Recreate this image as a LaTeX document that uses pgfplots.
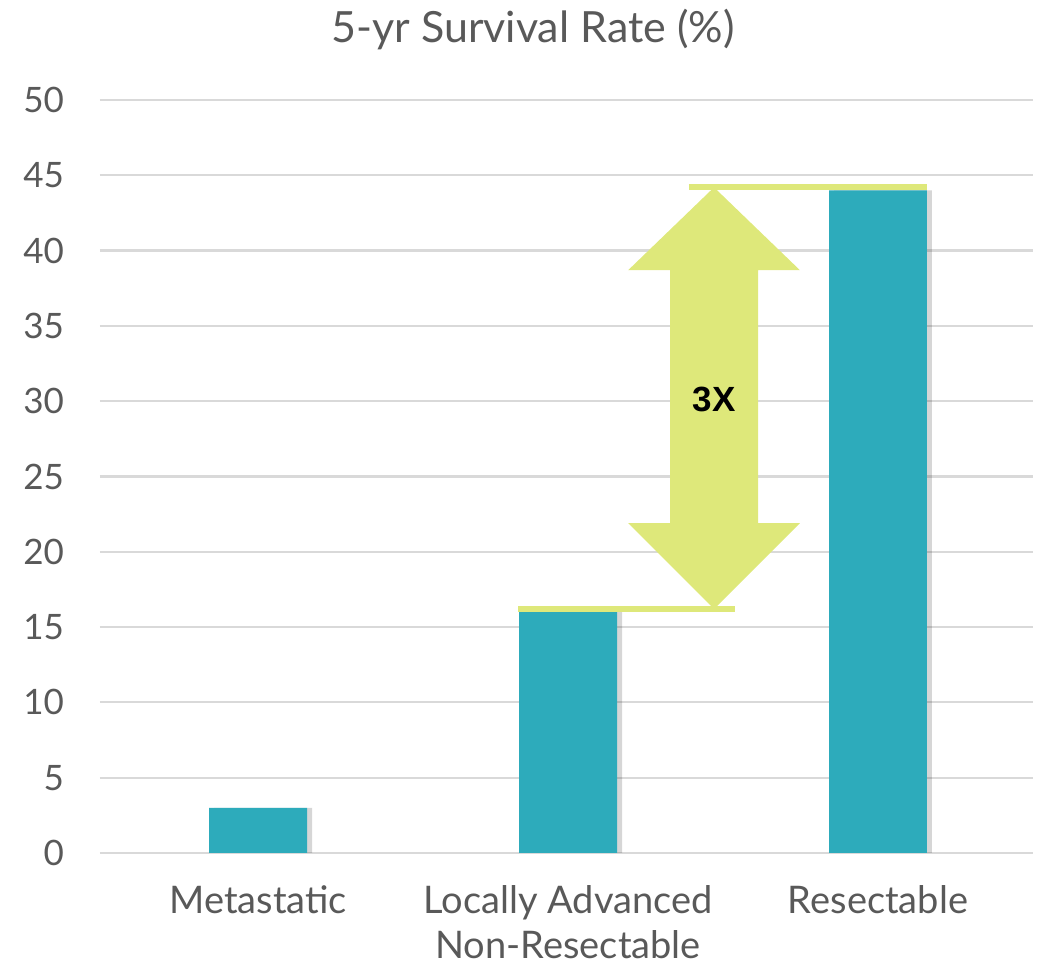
\documentclass[border=0pt]{standalone}
\usepackage{fontspec}
\setmainfont{Lato}
\newfontfamily\arialfont{Liberation Sans}
\usepackage{pgfplots}
\pgfplotsset{compat=1.18}
\definecolor{teal1}{HTML}{2DABBB}
\definecolor{lime1}{HTML}{DEE87A}
\definecolor{grid1}{HTML}{D9D9D9}
\definecolor{txt1}{HTML}{595959}
\begin{document}
\begin{tikzpicture}
\begin{axis}[
  scale only axis,
  width=466.5pt, height=376.5pt,
  xmin=-0.51, xmax=2.5,
  ymin=0, ymax=50,
  ytick={0,5,...,50},
  xtick={0,1,2},
  xticklabels={Metastatic,{Locally Advanced\\Non-Resectable},Resectable},
  axis line style={draw=none},
  major tick length=0pt,
  ymajorgrids,
  grid style={grid1, line width=1.1pt},
  /pgf/number format/assume math mode=true,
  yticklabel style={font=\fontsize{17.5}{20}\selectfont, text=txt1, anchor=east, xshift=-14.5pt},
  xticklabel style={font=\fontsize{19}{22.5}\selectfont, text=txt1, align=center, anchor=north, yshift=-15pt, inner sep=1pt},
  title={5-yr Survival Rate (\%)},
  title style={font=\fontsize{21.5}{24}\selectfont, text=txt1, at={(0.464,1)}, anchor=base, yshift=22.5pt},
  clip=false,
]
% shadow
\addplot[ybar, bar width=0.316, bar shift=2.5pt, fill=black, fill opacity=0.16, draw=none]
  coordinates {(0,3) (1,16) (2,44)};
% bars
\addplot[ybar, bar width=0.316, bar shift=0pt, fill=teal1, draw=none]
  coordinates {(0,3) (1,16) (2,44)};
% guide lines
\addplot[lime1, line width=3pt] coordinates {(1.39,44.2) (2.158,44.2)};
\addplot[lime1, line width=3pt] coordinates {(0.839,16.2) (1.539,16.2)};
% double arrow
\addplot[fill=lime1, draw=none] coordinates {
  (1.471,44.2) (1.748,38.7) (1.613,38.7) (1.613,21.9) (1.748,21.9)
  (1.471,16.2) (1.194,21.9) (1.329,21.9) (1.329,38.7) (1.194,38.7)} -- cycle;
\node at (axis cs:1.471,30.1) {\arialfont\bfseries\fontsize{17.5}{20}\selectfont 3X};
\end{axis}
\pgfresetboundingbox
\path[use as bounding box] ([xshift=-50pt,yshift=-60pt]current axis.south west) rectangle ([xshift=6pt,yshift=50pt]current axis.north east);
\end{tikzpicture}
\end{document}
